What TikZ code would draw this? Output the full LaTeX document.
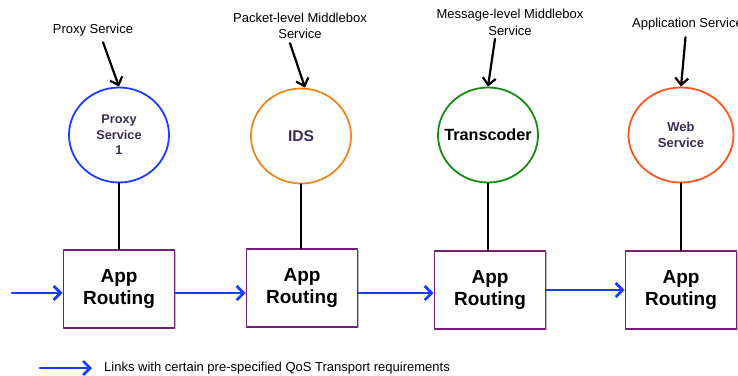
\documentclass[tikz,border=0pt]{standalone}
\usepackage{fontspec}
\setmainfont{Liberation Sans}
\usetikzlibrary{arrows.meta,shapes.geometric,shadows}
\definecolor{proxyblue}{RGB}{30,60,255}
\definecolor{idsorange}{RGB}{240,135,30}
\definecolor{tcgreen}{RGB}{20,140,20}
\definecolor{webred}{RGB}{255,85,30}
\definecolor{boxpurple}{RGB}{120,30,120}
\definecolor{linkblue}{RGB}{25,60,255}
\definecolor{svcink}{RGB}{60,45,85}

\begin{document}
\begin{tikzpicture}[x=1pt,y=-1pt, line join=round, line cap=round,
	svc/.style={draw=#1, line width=1.8pt, ellipse, minimum width=100pt, minimum height=95pt, inner sep=0pt},
	router/.style={draw=boxpurple, line width=1.6pt, fill=white, minimum width=111pt, minimum height=78pt,
		align=center, font=\fontsize{19}{22}\selectfont\bfseries,
		drop shadow={shadow xshift=1.2pt, shadow yshift=-1.2pt, fill=black!50, opacity=.5}},
	tag/.style={align=center, inner sep=1pt, font=\fontsize{13}{16.5}\selectfont},
	point/.style={-{Straight Barb[length=7pt,width=13pt]}, line width=2.2pt},
	wire/.style={line width=2.8pt},
	link/.style={draw=linkblue, line width=2.8pt, -{Straight Barb[length=7pt,width=14pt]}}]
	\useasboundingbox (0,0) rectangle (738,375);
	\clip (0,0) rectangle (738,375);
	% services
	\node[svc=proxyblue] (proxy) at (119,135) {};
	\node[svc=idsorange] (ids) at (301,136) {};
	\node[svc=tcgreen] (trans) at (488,135) {};
	\node[svc=webred, minimum width=105pt] (web) at (681,135) {};
	\node[align=center, text=svcink, font=\fontsize{12.7}{15.5}\selectfont\bfseries] (proxyt) at (proxy) {Proxy\\Service\\1};
	\node[text=svcink, font=\fontsize{15.6}{18}\selectfont\bfseries] (idst) at (ids) {IDS};
	\node[font=\fontsize{16.2}{18}\selectfont\bfseries] (transt) at (trans) {Transcoder};
	\node[align=center, text=svcink, font=\fontsize{13}{16}\selectfont\bfseries] (webt) at (web) {Web\\Service};
	% routers
	\node[router] (r1) at (119,289) {App\\Routing};
	\node[router] (r2) at (302,288) {App\\Routing};
	\node[router] (r3) at (490,290) {App\\Routing};
	\node[router] (r4) at (681,290) {App\\Routing};
	% labels
	\node[tag] (plab) at (93,30) {Proxy Service};
	\node[tag] (pkt) at (300,26) {Packet-level Middlebox\\Service};
	\node[tag] (msg) at (510,22.5) {Message-level Middlebox\\Service};
	\node[tag, anchor=west] (app) at (631,24) {Application Service};
	\draw[point] ([xshift=10pt,yshift=-5pt]plab.south) -- (proxy.north);
	\draw[point] ([xshift=-10pt,yshift=-3pt]pkt.south) -- ([xshift=4pt]ids.north);
	\draw[point] ([xshift=-15pt,yshift=-2pt]msg.south) -- (trans.north);
	\draw[point] ([xshift=-2pt,yshift=-6pt]app.south) -- (web.north);
	% wires
	\draw[wire] (proxy.south) -- (proxy.south |- r1.north);
	\draw[wire] (ids.south) -- (ids.south |- r2.north);
	\draw[wire] (trans.south) -- (trans.south |- r3.north);
	\draw[wire] (web.south) -- (web.south |- r4.north);
	% links
	\coordinate (in) at (12,293);
	\draw[link] (in) -- (in -| r1.west);
	\draw[link] (in -| r1.east) -- (in -| r2.west);
	\draw[link] (in -| r2.east) -- (in -| r3.west);
	\draw[link] (r3.east) -- (r4.west);
	% legend
	\node[tag, anchor=west] (legend) at (103,368) {Links with certain pre-specified QoS Transport requirements};
	\coordinate (lg) at (40,368);
	\draw[link] (lg) -- ([xshift=-11pt]legend.west);
\end{tikzpicture}
\end{document}
